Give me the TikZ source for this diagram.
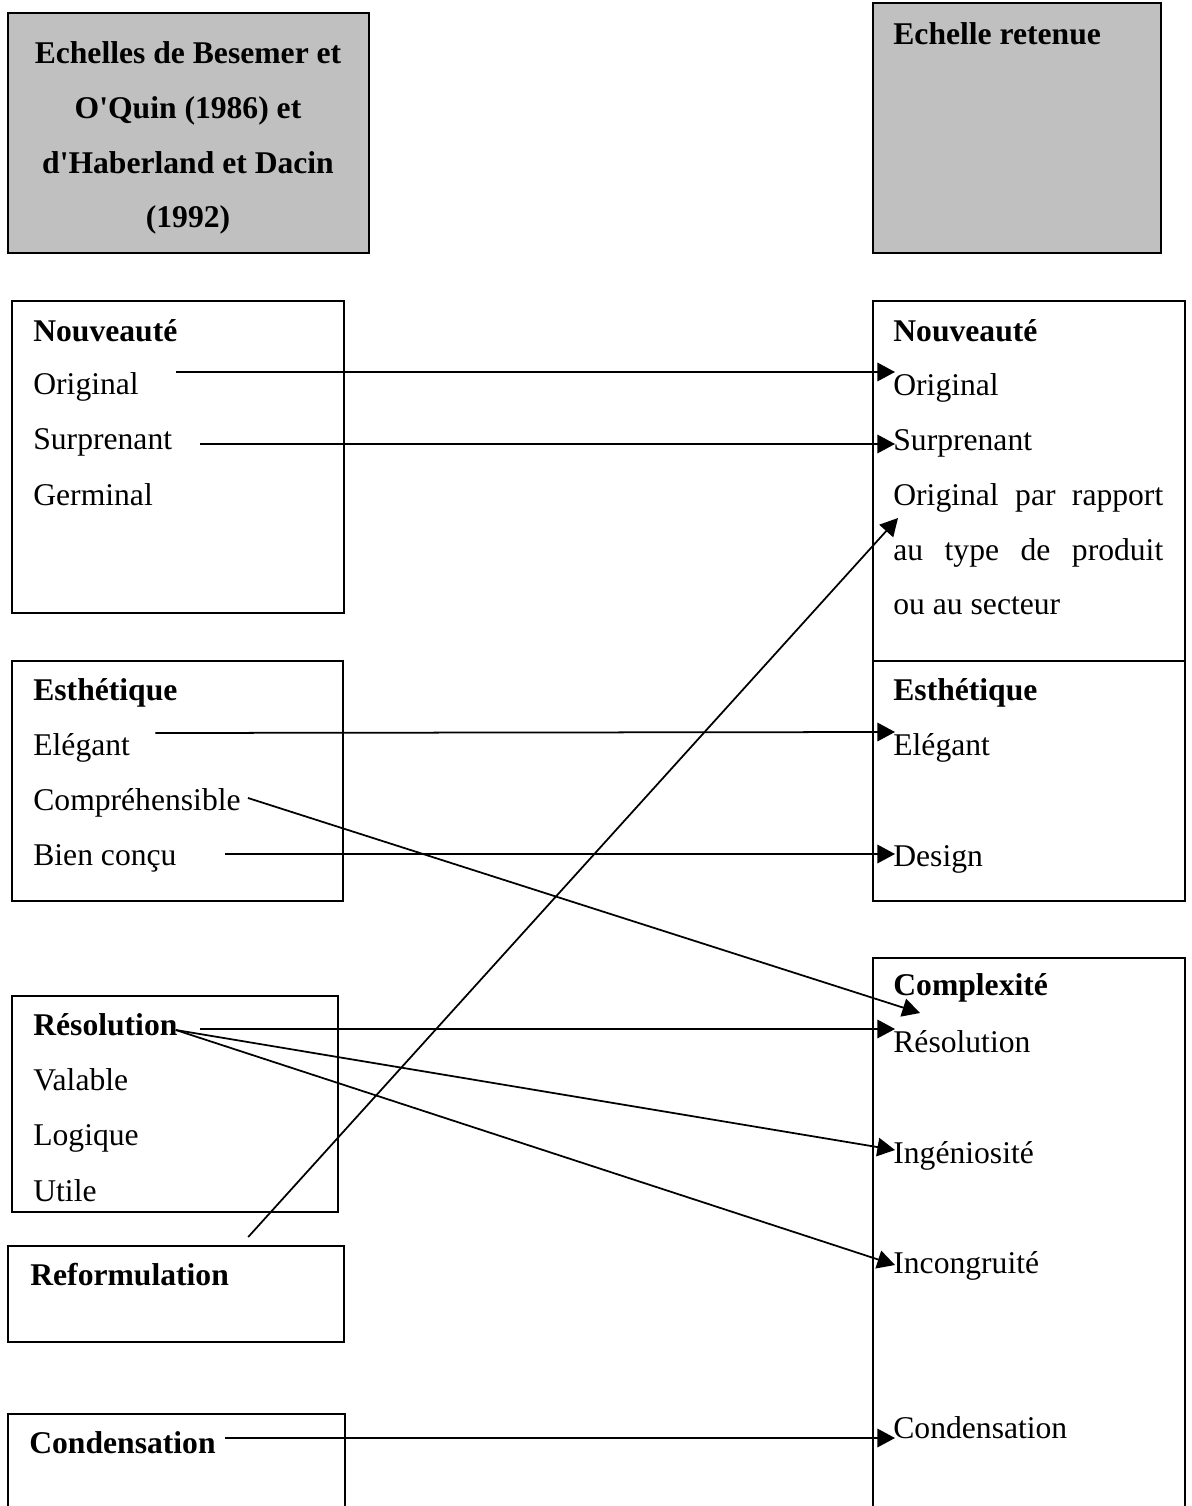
\documentclass[tikz,border=0pt]{standalone}
\usepackage{fontspec}
\setmainfont{Liberation Serif}
\usepackage{xcolor}
\usepackage{tikz}
\usetikzlibrary{arrows.meta}
\definecolor{boxgray}{RGB}{192,192,192}

\begin{document}
\begin{tikzpicture}[x=0.02cm, y=-0.02cm,
  item/.style={anchor=base west, inner sep=0pt, font=\fontsize{18}{31.2}\selectfont},
  head/.style={item, font=\fontsize{18}{31.2}\selectfont\bfseries},
  box/.style={draw, line width=1pt},
  greybox/.style={box, fill=boxgray},
  arrow/.style={line width=1pt, -{Triangle[length=10pt, width=10.5pt]}}]

  \useasboundingbox (0,0) rectangle (1191,1506);

  \draw [greybox] (8,13) rectangle (369,253);
  \draw [greybox] (873,3) rectangle (1161,253);
  \draw [box] (12,301) rectangle (344,613);
  \draw [box] (12,661) rectangle (343,901);
  \draw [box] (12,996) rectangle (338,1212);
  \draw [box] (8,1246) rectangle (344,1342);
  \draw [box] (8,1506) |- (345,1414) -- (345,1506);
  \draw [box] (873,301) rectangle (1185,901);
  \draw [box] (873,661) -- (1185,661);
  \draw [box] (873,1506) |- (1185,958) -- (1185,1506);

  \node (titl) [head, anchor=center, align=center] at (188,138) {Echelles de Besemer et\\O\textquotesingle Quin (1986) et\\d\textquotesingle Haberland et Dacin\\(1992)};
  \node (titr) [head] at (893,45) {Echelle retenue};

  \node (nvl) [head] at (33,342) {Nouveauté};
  \node (orl) [item] at (33,395) {Original};
  \node (sul) [item] at (33,450) {Surprenant};
  \node (gel) [item] at (33,505) {Germinal};

  \node (esl) [head] at (33,700) {Esthétique};
  \node (ell) [item] at (33,755) {Elégant};
  \node (col) [item] at (33,810) {Compréhensible};
  \node (bcl) [item] at (33,865) {Bien conçu};

  \node (rel) [head] at (33,1035) {Résolution};
  \node (val) [item] at (33,1090) {Valable};
  \node (lol) [item] at (33,1145) {Logique};
  \node (utl) [item] at (33,1201) {Utile};
  \node (rfl) [head] at (30,1285) {Reformulation};
  \node (cdl) [head] at (29,1453) {Condensation};

  \node (nvr) [head] at (893,342) {Nouveauté};
  \node (orr) [item] at (893,396) {Original};
  \node (sur) [item] at (893,451) {Surprenant};
  \node (opr) [item] at (893,505) {\makebox[5.4cm][s]{Original par rapport}};
  \node (tpr) [item] at (893,560) {\makebox[5.4cm][s]{au type de produit}};
  \node (ser) [item] at (893,614) {ou au secteur};

  \node (esr) [head] at (893,700) {Esthétique};
  \node (elr) [item] at (893,755) {Elégant};
  \node (der) [item] at (893,866) {Design};

  \node (cxr) [head] at (893,995) {Complexité};
  \node (rsr) [item] at (893,1052) {Résolution};
  \node (inr) [item] at (893,1163) {Ingéniosité};
  \node (icr) [item] at (893,1273) {Incongruité};
  \node (cdr) [item] at (893,1438) {Condensation};

  \draw [arrow] ([shift={(37,-23)}]orl.base east) -- ([shift={(2,-24)}]orr.base west);
  \draw [arrow] ([shift={(28,-6)}]sul.base east) -- ([shift={(2,-7)}]sur.base west);
  \draw [arrow] ([shift={(19,-48)}]rfl.base east) -- ([shift={(5,13)}]opr.base west);
  \draw [arrow] ([shift={(25,-22)}]ell.base east) -- ([shift={(2,-23)}]elr.base west);
  \draw [arrow] ([shift={(7,-12)}]col.base east) -- ([shift={(27,18)}]cxr.base west);
  \draw [arrow] ([shift={(48,-11)}]bcl.base east) -- ([shift={(2,-12)}]der.base west);
  \draw [arrow] ([shift={(22,-6)}]rel.base east) -- ([shift={(2,-23)}]rsr.base west);
  \draw [arrow] ([shift={(-2,-5)}]rel.base east) -- ([shift={(2,-13)}]inr.base west);
  \draw [arrow] ([shift={(-2,-5)}]rel.base east) -- ([shift={(2,-8)}]icr.base west);
  \draw [arrow] ([shift={(9,-15)}]cdl.base east) -- ([shift={(2,0)}]cdr.base west);
\end{tikzpicture}
\end{document}
